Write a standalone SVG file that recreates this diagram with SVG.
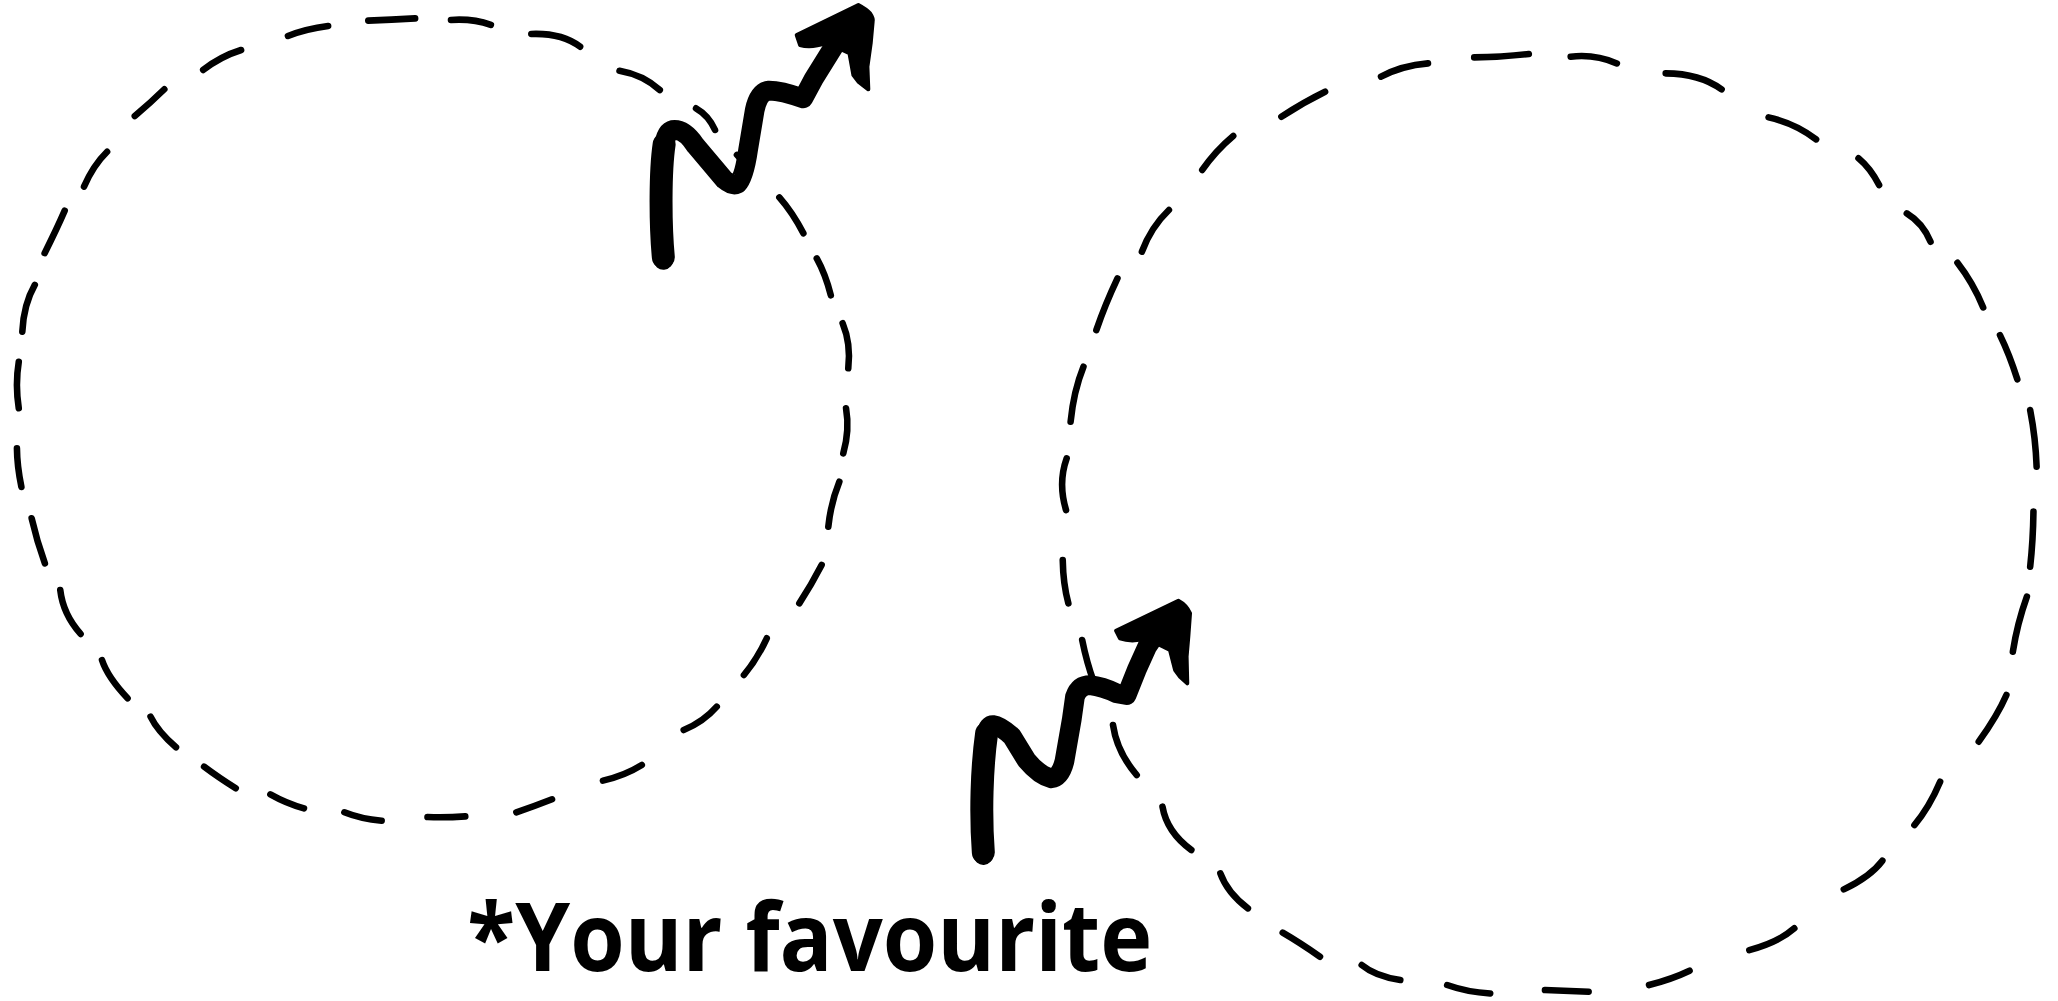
<svg xmlns="http://www.w3.org/2000/svg" width="2058" height="1001" viewBox="0 0 2058 1001">
<style>
.dash{fill:none;stroke:#000;stroke-width:5;stroke-linecap:round;stroke-linejoin:round}
.body{fill:none;stroke:#000;stroke-width:15;stroke-linecap:round;stroke-linejoin:round}
.leg{fill:none;stroke:#000;stroke-width:17.5;stroke-linecap:round;stroke-linejoin:round}
.head{fill:#000;stroke:#000;stroke-width:3;stroke-linejoin:round}
.label{font-family:"Open Sans","Noto Sans","Liberation Sans",sans-serif;font-weight:700;font-size:72px;fill:#000}
</style>
<rect width="2058" height="1001" fill="#fff"/>
<g transform="scale(1.3125)">
<g id="connectors">
<g id="loop-left">
<path class="dash" d="M530.3,82.5 Q540,88 544.8,99"/>
<path class="dash" d="M561.5,118 L564,120.7"/>
<path class="dash" d="M593.8,150.4 Q604,162 612.1,177.8"/>
<path class="dash" d="M622.3,196.9 Q629,209 633,225"/>
<path class="dash" d="M642,246.3 Q648.5,262 646.3,280.6"/>
<path class="dash" d="M644.6,311.1 Q647.5,328 642.5,345.4"/>
<path class="dash" d="M639.5,367 Q633,383 631.1,401.3"/>
<path class="dash" d="M626,430.5 Q618,446 609,459.7"/>
<path class="dash" d="M584.2,486.3 Q577,502 566.8,514.3"/>
<path class="dash" d="M546.1,538.4 Q536,550 520.9,556.2"/>
<path class="dash" d="M489,582.9 Q476,591 459.4,594.8"/>
<path class="dash" d="M420.6,609 Q408,614 393.4,618.9"/>
<path class="dash" d="M354.5,622 Q340,623 325.7,622.5"/>
<path class="dash" d="M290.8,625.3 Q275,624 262.4,618.9"/>
<path class="dash" d="M231.6,615.9 Q218,612 206,605.2"/>
<path class="dash" d="M179.6,600.6 Q166,592 155.5,584.1"/>
<path class="dash" d="M134.1,569.4 Q120,557 114.7,546"/>
<path class="dash" d="M97.2,532 Q82,516 77.7,502.9"/>
<path class="dash" d="M61.4,483 Q48,468 45.9,449.5"/>
<path class="dash" d="M34.2,429.2 Q28,412 24.1,394.9"/>
<path class="dash" d="M16.3,371 Q13,355 12.9,341.6"/>
<path class="dash" d="M14.3,311 Q11.5,293 14.3,275.6"/>
<path class="dash" d="M17,252.7 Q18,232 26.5,217.1"/>
<path class="dash" d="M34,192.9 Q43,175 49.3,160.5"/>
<path class="dash" d="M64,142.2 Q71,126 81.6,115.6"/>
<path class="dash" d="M102.7,88.4 Q115,78 125.2,68"/>
<path class="dash" d="M154.8,53.3 Q168,43 183.7,38.1"/>
<path class="dash" d="M219.4,27.4 Q233,22 250,19.8"/>
<path class="dash" d="M280.6,15.7 Q298,15 316.3,14"/>
<path class="dash" d="M343.6,15.2 Q360,14 374,19"/>
<path class="dash" d="M404.8,25.9 Q428,25 442,35.6"/>
<path class="dash" d="M472,53.9 Q490,57 502.7,68.6"/>
</g>
<g id="loop-right">
<path class="dash" d="M824.5,487.6 Q828,505 833.3,519.4"/>
<path class="dash" d="M848,552.4 Q851,573 866.1,590.5"/>
<path class="dash" d="M885.7,614.6 Q889,634 907.7,647.6"/>
<path class="dash" d="M929.8,665.4 Q935,680 950.8,692.1"/>
<path class="dash" d="M977.3,710.6 Q990,718 1005.7,728.9"/>
<path class="dash" d="M1037.5,735.3 Q1048,744 1066.9,746.7"/>
<path class="dash" d="M1102.6,750.5 Q1118,756 1135.4,756.9"/>
<path class="dash" d="M1177.1,754.3 L1210.4,755.6"/>
<path class="dash" d="M1256.4,750.5 Q1274,746 1287.3,739.6"/>
<path class="dash" d="M1332.8,723.9 Q1355,718 1367.1,707.3"/>
<path class="dash" d="M1404.8,677.6 Q1425,668 1434.2,655.8"/>
<path class="dash" d="M1458.6,628.6 Q1470,615 1478.2,595.6"/>
<path class="dash" d="M1507.6,565.1 Q1522,545 1528.7,529.5"/>
<path class="dash" d="M1533.6,496.5 Q1537,475 1544.3,454.6"/>
<path class="dash" d="M1546.8,431.8 Q1549,412 1549.3,389.8"/>
<path class="dash" d="M1551.7,355.6 Q1551,334 1546.8,312.4"/>
<path class="dash" d="M1537,289 Q1531,270 1523.8,255.3"/>
<path class="dash" d="M1511,234.2 Q1503,215 1491.4,200.2"/>
<path class="dash" d="M1470.9,184.2 Q1465,170 1452.8,162.6"/>
<path class="dash" d="M1431.7,141 Q1425,128 1416,120.6"/>
<path class="dash" d="M1383.7,106.2 Q1368,94 1347.5,89.4"/>
<path class="dash" d="M1311.7,68.1 Q1295,56 1269.1,55.9"/>
<path class="dash" d="M1231.9,48.3 Q1215,41 1196.7,43.2"/>
<path class="dash" d="M1164.8,41.1 Q1145,43.5 1123.2,43.7"/>
<path class="dash" d="M1088,48.3 Q1068,50 1052.2,58.4"/>
<path class="dash" d="M1009.6,69.9 Q993,78 976.3,88.9"/>
<path class="dash" d="M939.6,103.6 Q926,115 916,129.5"/>
<path class="dash" d="M890.6,160 Q877,173 870,191.8"/>
<path class="dash" d="M851.4,212.1 Q842,232 835.3,251.5"/>
<path class="dash" d="M825.5,279.4 Q818,298 815.7,321.3"/>
<path class="dash" d="M812.7,349.2 Q806,368 812.2,388.6"/>
<path class="dash" d="M809.7,426.7 Q810,445 814,459.7"/>
</g>
</g>
<g id="arrow-top">
<path class="body" d="M505.4,198 C503,170 503,130 506,110 Q508,99 514,99 Q522,99 530,111 L552,137 Q558,142 562,140 Q567,135 570,114 L575,84 Q578,70 586,69 Q595,69 612,75 L620,60 L638,31"/>
<path class="leg" d="M505.4,196 C503,170 503,130 506,110"/>
<path class="head" d="M607,26.7 L654,3.8 Q660,7 662.9,10.2 Q665.5,14 664.9,16.5 L663.4,33 L660.9,50.8 L661.6,68.1 L654,62.2 L650.2,57.2 L647.2,40.6 L629.9,32.5 Q618,37 609.6,34.3 Z"/>
</g>
<g id="arrow-bottom">
<path class="body" d="M749.2,651.5 C747,620 748,585 751.7,558.8 Q753,552 757,552.4 Q762,553 771,561 L782,579 Q792,591 801,593 Q808,592 811,580 L816.5,548.6 L819,531 Q822,522 830.5,522 Q840,523 850.8,528.3 L858.4,529.6 L866,510.5 L874,492.7 L882,481"/>
<path class="leg" d="M749.2,649.5 C747,620 748,585 751.7,558.8"/>
<path class="head" d="M850.3,480.5 L897.8,457.7 Q904,461 906.7,467.3 L905.4,485.1 L904.1,500.3 L904.6,520.7 L899.1,515.6 L895.3,510.5 L891.4,495.3 L873.7,486.4 Q862,489.5 853.3,486.4 Z"/>
</g>
<g id="label">
<text class="label" x="356" y="740" textLength="522" lengthAdjust="spacingAndGlyphs">*Your favourite</text>
</g>
</g>
</svg>
